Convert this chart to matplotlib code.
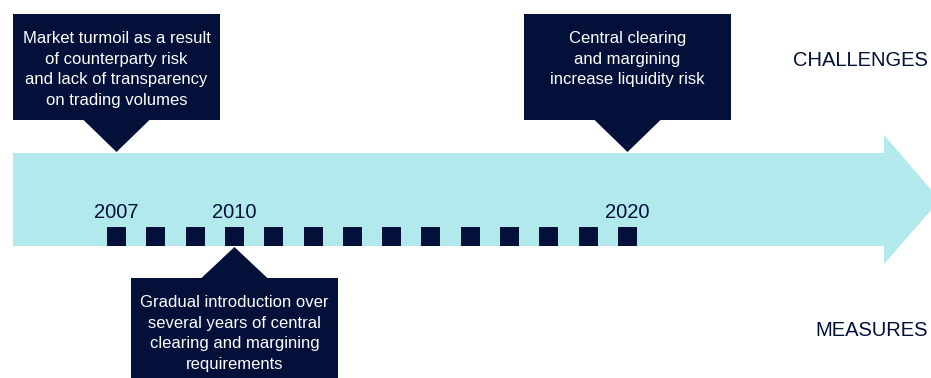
import numpy as np
import matplotlib
matplotlib.use("Agg")
import matplotlib.pyplot as plt
from matplotlib.patches import Polygon, Rectangle

plt.rcParams['font.family'] = ['Liberation Sans', 'DejaVu Sans']

NAVY = '#02103a'
CYAN = '#b2e9ed'

# timeline data
years = [2007, 2008, 2009, 2010, 2011, 2012, 2013, 2014, 2015, 2016, 2017, 2018, 2019, 2020]
label_years = [2007, 2010, 2020]

callout_years = [2007, 2020, 2010]
callout_sides = ['top', 'top', 'bottom']
callout_texts = [
    "Market turmoil as a result\nof counterparty risk\nand lack of transparency\non trading volumes",
    "Central clearing\nand margining\nincrease liquidity risk",
    "Gradual introduction over\nseveral years of central\nclearing and margining\nrequirements",
]
side_labels = ['CHALLENGES', 'MEASURES']

W, H = 931, 378
PITCH = 39.31          # pixels per year
X0 = 2007 - 116.5 / PITCH

def px(x):
    # pixel column -> year units
    return X0 + x / PITCH

fig = plt.figure(figsize=(W / 100, H / 100), dpi=100)
ax = fig.add_axes([0, 0, 1, 1])
ax.set_xlim(px(0), px(W))
ax.set_ylim(H, 0)
ax.axis('off')

# big arrow
arrow = [(px(13), 153), (px(884), 153), (px(884), 135), (px(940), 200),
         (px(884), 264), (px(884), 246), (px(13), 246)]
ax.add_patch(Polygon(arrow, closed=True, facecolor=CYAN, edgecolor='none'))

# year squares
sq = 19 / PITCH
for yr in years:
    ax.add_patch(Rectangle((yr - sq / 2, 227), sq, 19, facecolor=NAVY, edgecolor='none'))
for yr in label_years:
    ax.text(yr, 213, str(yr), ha='center', va='center', fontsize=14.5, color=NAVY)

# callouts
bw = 207 / PITCH
hw = 34 / PITCH
for yr, side, txt in zip(callout_years, callout_sides, callout_texts):
    if side == 'top':
        top, bot = 14, 120
        ax.add_patch(Rectangle((yr - bw / 2, top), bw, bot - top, facecolor=NAVY, edgecolor='none'))
        ax.add_patch(Polygon([(yr - hw, bot - 1), (yr + hw, bot - 1), (yr, 152)],
                             facecolor=NAVY, edgecolor='none'))
    else:
        top, bot = 278, 390
        ax.add_patch(Rectangle((yr - bw / 2, top), bw, bot - top, facecolor=NAVY, edgecolor='none'))
        ax.add_patch(Polygon([(yr - hw, top + 1), (yr + hw, top + 1), (yr, 247)],
                             facecolor=NAVY, edgecolor='none'))
    ax.text(yr, top + 17, txt, ha='center', va='top', fontsize=12, color='white', linespacing=1.47)

ax.text(px(928), 60, side_labels[0], ha='right', va='center', fontsize=14.5, color=NAVY)
ax.text(px(928), 330, side_labels[1], ha='right', va='center', fontsize=14.5, color=NAVY)

fig.savefig('out.png', dpi=100)
